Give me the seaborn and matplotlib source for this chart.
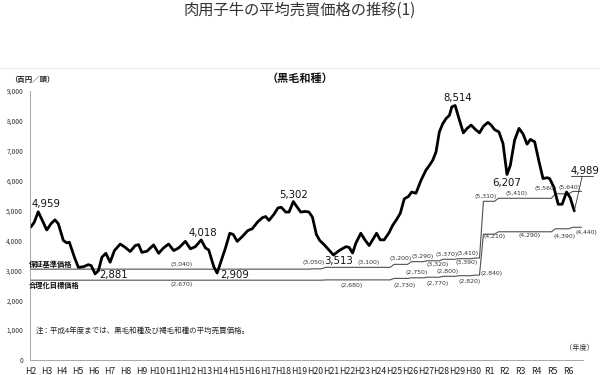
import matplotlib
matplotlib.use("Agg")
import matplotlib.pyplot as plt
import seaborn as sns
import pandas as pd
from matplotlib.ticker import FuncFormatter
from matplotlib.lines import Line2D

# ---------------- data ----------------
year_labels = ["H2", "H3", "H4", "H5", "H6", "H7", "H8", "H9", "H10", "H11", "H12", "H13",
               "H14", "H15", "H16", "H17", "H18", "H19", "H20", "H21", "H22", "H23", "H24",
               "H25", "H26", "H27", "H28", "H29", "H30", "R1", "R2", "R3", "R4", "R5", "R6"]

# position in fiscal years from H2 (0 = H2)
price_t = [0.0, 0.23, 0.48, 0.74, 1.02, 1.29, 1.54, 1.75, 2.07, 2.28,
           2.45, 2.77, 3.02, 3.34, 3.65, 3.83, 4.08, 4.29, 4.51, 4.76,
           5.03, 5.30, 5.67, 5.98, 6.30, 6.62, 6.83, 7.04, 7.36, 7.78,
           8.10, 8.41, 8.73, 9.05, 9.37, 9.79, 10.11, 10.42, 10.79, 11.06,
           11.27, 11.59, 11.80, 12.12, 12.33, 12.60, 12.82, 13.07, 13.39, 13.74,
           14.02, 14.38, 14.66, 14.87, 15.08, 15.39, 15.65, 15.86, 16.14, 16.35,
           16.62, 16.83, 17.09, 17.40, 17.61, 17.83, 18.08, 18.29, 18.57, 18.88,
           19.16, 19.52, 19.94, 20.15, 20.37, 20.58, 20.89, 21.15, 21.42, 21.64,
           21.89, 22.12, 22.37, 22.69, 22.90, 23.18, 23.39, 23.64, 23.90, 24.11,
           24.38, 24.70, 25.01, 25.23, 25.44, 25.65, 25.86, 26.08, 26.29, 26.50,
           26.65, 26.86, 27.13, 27.38, 27.60, 27.87, 28.15, 28.40, 28.65, 28.93,
           29.14, 29.35, 29.63, 29.89, 30.14, 30.35, 30.62, 30.90, 31.16, 31.41,
           31.62, 31.89, 32.17, 32.42, 32.68, 32.84, 33.10, 33.38, 33.63, 33.91,
           34.14, 34.40]
price = [4440, 4610, 4959, 4670, 4350, 4560, 4690, 4560, 4000, 3920,
         3940, 3440, 3100, 3120, 3190, 3160, 2881, 2990, 3440, 3570,
         3270, 3660, 3880, 3770, 3630, 3830, 3860, 3600, 3640, 3850,
         3570, 3750, 3880, 3660, 3750, 3970, 3720, 3790, 4018, 3750,
         3680, 3120, 2909, 3410, 3750, 4240, 4200, 3970, 4130, 4330,
         4390, 4630, 4760, 4800, 4670, 4870, 5090, 5110, 4950, 4950,
         5302, 5140, 4950, 4970, 4950, 4780, 4200, 4000, 3860, 3680,
         3513, 3660, 3790, 3770, 3580, 3910, 4240, 4020, 3830, 4020,
         4240, 4020, 4020, 4270, 4500, 4720, 4910, 5390, 5470, 5620,
         5580, 6010, 6350, 6510, 6680, 6960, 7630, 7910, 8080, 8190,
         8470, 8514, 8030, 7600, 7740, 7860, 7710, 7600, 7820, 7950,
         7860, 7710, 7630, 7240, 6207, 6510, 7350, 7750, 7560, 7220,
         7380, 7300, 6630, 6070, 6100, 6070, 5790, 5210, 5210, 5620,
         5430, 4989]

# 保証基準価格 (guarantee standard price): change points and values
std_t = [0.0, 17.6, 18.4, 22.75, 23.85, 24.85, 25.85, 26.85, 27.85, 28.4, 29.35, 32.95, 34.05]
std_v = [3040, 3050, 3100, 3200, 3290, 3320, 3370, 3390, 3410, 5310, 5410, 5560, 5640]
# 合理化目標価格 (rationalisation target price)
tgt_t = [0.0, 18.4, 22.75, 23.85, 24.85, 25.85, 26.85, 27.85, 28.4, 29.35, 32.95, 34.05]
tgt_v = [2670, 2680, 2730, 2750, 2770, 2800, 2820, 2840, 4210, 4290, 4390, 4440]
line_end_t = 34.85

# labels of the peaks / troughs
peak_labels = [4959, 2881, 4018, 2909, 5302, 3513, 8514, 6207]

# ---------------- style ----------------
sns.set_theme(style="white")
plt.rcParams["font.family"] = ["Noto Sans CJK JP", "DejaVu Sans"]

fig = plt.figure(figsize=(6, 3.75), dpi=100)
ax = fig.add_axes([30 / 600, 15 / 375, 553 / 600, 269 / 375])


def step_frame(ts, vs, end, ramp=0.25):
    xs, ys = [ts[0]], [vs[0]]
    for i in range(1, len(ts)):
        xs += [ts[i], ts[i] + ramp]
        ys += [vs[i - 1], vs[i]]
    xs.append(end)
    ys.append(vs[-1])
    return pd.DataFrame({"t": xs, "v": ys})


std_df = step_frame(std_t, std_v, line_end_t)
tgt_df = step_frame(tgt_t, tgt_v, line_end_t)
sns.lineplot(data=std_df, x="t", y="v", ax=ax, color="#505050", lw=0.8,
             estimator=None, sort=False)
sns.lineplot(data=tgt_df, x="t", y="v", ax=ax, color="#505050", lw=0.8,
             estimator=None, sort=False)

price_df = pd.DataFrame({"t": price_t, "v": price})
sns.lineplot(data=price_df, x="t", y="v", ax=ax, color="black", lw=2.0,
             estimator=None, sort=False)

ax.set_xlim(-0.04, 34.95)
ax.set_ylim(0, 9000)
ax.set_xticks(range(len(year_labels)))
ax.set_xticklabels(year_labels, fontsize=6.3, color="#222222")
ax.set_yticks(range(0, 9001, 1000))
ax.yaxis.set_major_formatter(FuncFormatter(lambda v, p: f"{int(v):,}"))
ax.tick_params(axis="y", labelsize=4.8, colors="#333333", length=0, pad=5)
ax.tick_params(axis="x", direction="in", length=2.5, width=0.5, color="#999999",
               pad=5, labelcolor="#222222")
for s in ["top", "right"]:
    ax.spines[s].set_visible(False)
for s in ["left", "bottom"]:
    ax.spines[s].set_color("#999999")
    ax.spines[s].set_linewidth(0.6)
ax.set_xlabel("")
ax.set_ylabel("")

# ---------------- annotations ----------------
lbl_kw = dict(fontsize=7.3, color="#111111", family=["DejaVu Sans"], va="center")
ann_pos = {4959: (0.08, 5230, "left"), 2881: (4.35, 2840, "left"),
           4018: (10.9, 4240, "center"), 2909: (12.0, 2840, "left"),
           5302: (16.65, 5530, "center"), 3513: (18.6, 3310, "left"),
           8514: (27.0, 8770, "center"), 6207: (30.1, 5930, "center")}
for val in peak_labels:
    x, y, ha = ann_pos[val]
    ax.text(x, y, f"{val:,}", ha=ha, clip_on=False, **lbl_kw)

# last value with underline and leader
last_t, last_v = price_t[-1], price[-1]
ax.text(last_t - 0.22, last_v + 1350, f"{last_v:,}", ha="left", clip_on=False, **lbl_kw)
ax.add_line(Line2D([last_t - 0.22, last_t + 1.2], [last_v + 1180, last_v + 1180],
                   color="#333333", lw=0.6, clip_on=False))
ax.add_line(Line2D([last_t, last_t + 0.5], [last_v, last_v + 1160],
                   color="#333333", lw=0.6, clip_on=False))

# step value labels
sl_kw = dict(fontsize=4.4, color="#333333", ha="center", va="center",
             family=["DejaVu Sans"], clip_on=False)
std_lbl_pos = [(9.55, 3210), (17.92, 3260), (21.4, 3260), (23.43, 3380), (24.83, 3450),
               (25.78, 3180), (26.34, 3540), (27.6, 3250), (27.67, 3570),
               (28.76, 5480), (30.73, 5560), (32.57, 5740), (34.07, 5770)]
std_lbl_vals = [3040, 3050, 3100, 3200, 3290, 3320, 3370, 3390, 3410, 5310, 5410, 5560, 5640]
for (x, y), v in zip(std_lbl_pos, std_lbl_vals):
    ax.text(x, y, f"({v:,})", **sl_kw)
tgt_lbl_pos = [(9.55, 2510), (20.3, 2490), (23.67, 2490), (24.42, 2940), (25.74, 2570),
               (26.4, 2960), (27.75, 2640), (29.17, 2900),
               (29.33, 4130), (31.57, 4150), (33.8, 4140), (35.15, 4250)]
tgt_lbl_vals = [2670, 2680, 2730, 2750, 2770, 2800, 2820, 2840, 4210, 4290, 4390, 4440]
for (x, y), v in zip(tgt_lbl_pos, tgt_lbl_vals):
    ax.text(x, y, f"({v:,})", **sl_kw)

ax.text(-0.1, 3090, "保証基準価格", fontsize=5.2, color="#111111", ha="left",
        va="bottom", fontweight="bold")
ax.text(-0.1, 2620, "合理化目標価格", fontsize=5.2, color="#111111", ha="left",
        va="top", fontweight="bold")
ax.text(0.35, 970, "注：平成4年度までは、黒毛和種及び褐毛和種の平均売買価格。",
        fontsize=5.4, color="#222222", ha="left", va="center")
ax.text(1.02, 0.03, "（年度）", transform=ax.transAxes, fontsize=5.2, color="#333333",
        ha="right", va="bottom")

# figure-level texts
fig.text(0.5, 1 - 10 / 375, "肉用子牛の平均売買価格の推移(1)", fontsize=11,
         color="#333333", ha="center", va="center")
fig.add_artist(Line2D([0, 1], [1 - 68 / 375, 1 - 68 / 375], color="#e6e6e6", lw=0.6))
fig.text(300 / 600, 1 - 78 / 375, "（黒毛和種）", fontsize=8, fontweight="bold",
         color="#111111", ha="center", va="center")
fig.text(10 / 600, 1 - 79 / 375, "（百円／頭）", fontsize=5.3, fontweight="bold",
         color="#222222", ha="left", va="center")

fig.savefig("out.png", dpi=100)
